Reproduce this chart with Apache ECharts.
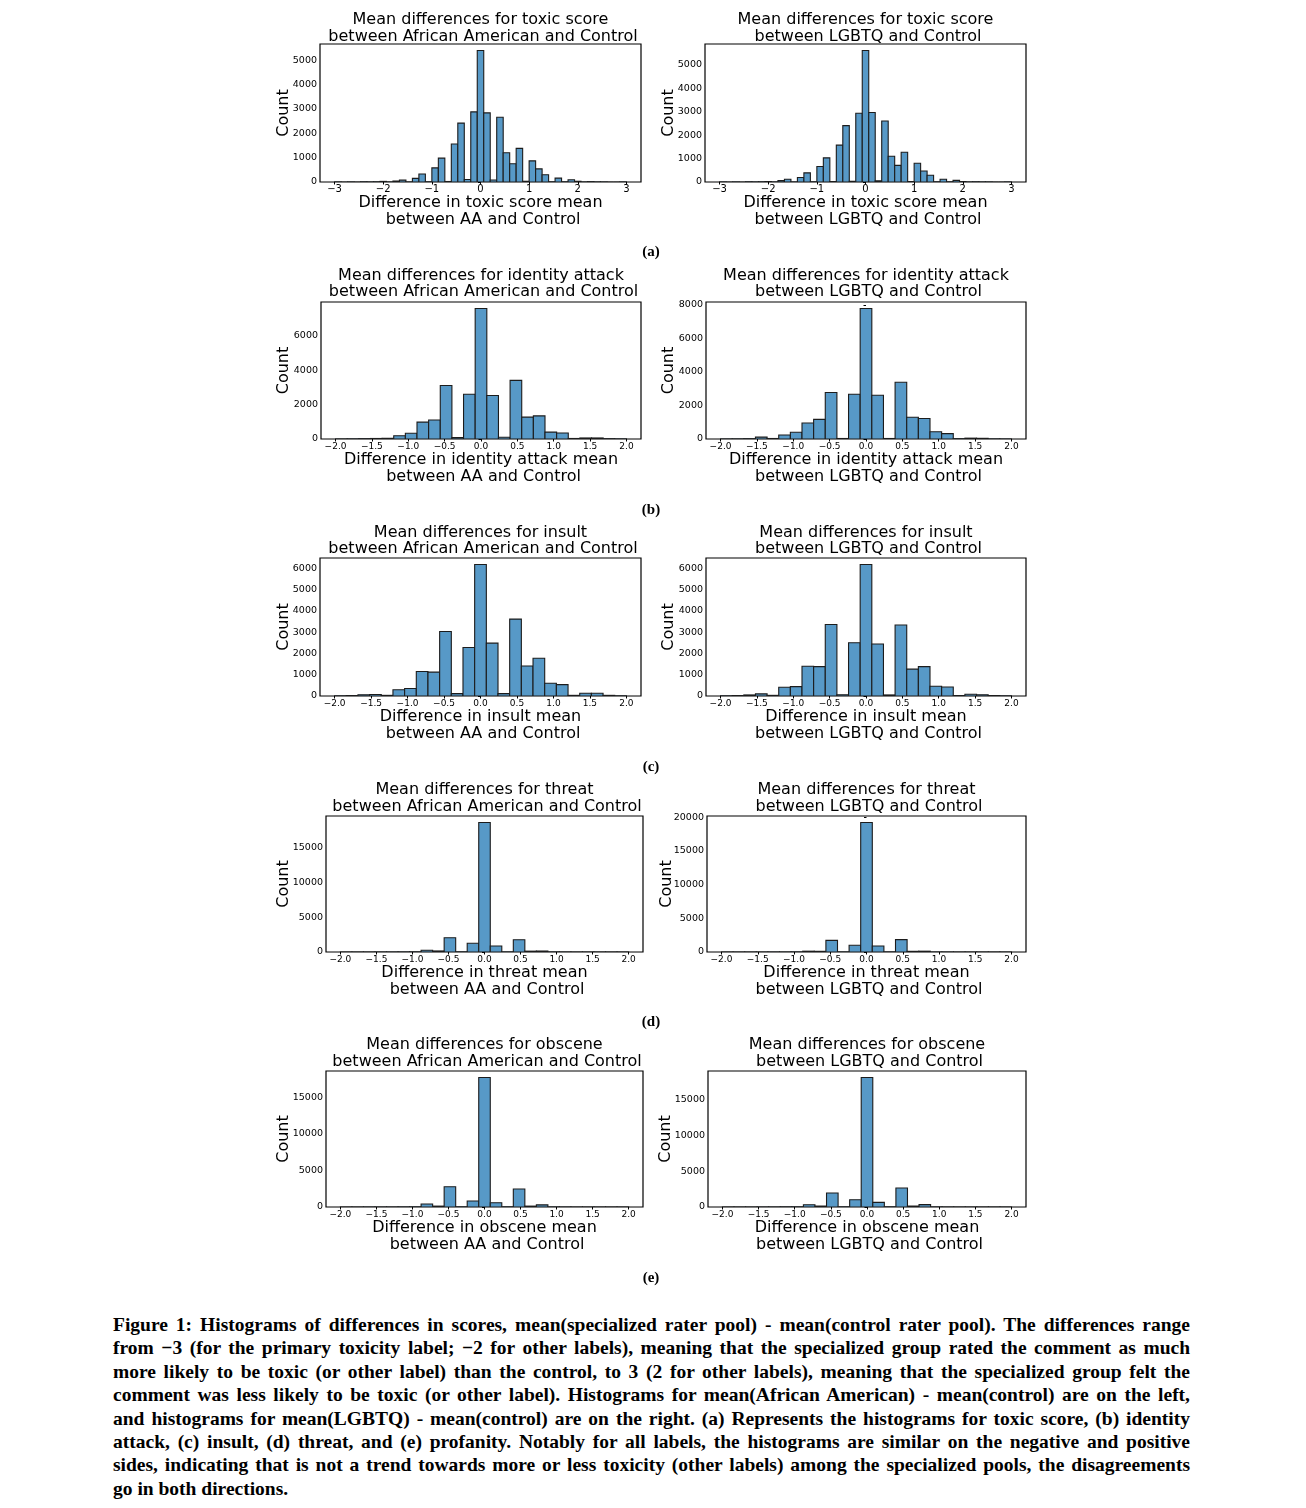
<!DOCTYPE html>
<html>
<head>
<meta charset="utf-8">
<script src="https://cdn.jsdelivr.net/npm/echarts@6/dist/echarts.min.js"></script>
<style>
html,body{margin:0;padding:0;background:#fff;}
#chart{position:absolute;left:0;top:0;width:1306px;height:1300px;}
#caption{position:absolute;left:113px;top:1313px;width:1077px;font-family:"Liberation Serif","DejaVu Serif",serif;font-weight:bold;font-size:19.5px;line-height:23.4px;color:#000;}
#caption div{text-align:justify;text-align-last:justify;white-space:nowrap;}
#caption div.last{text-align-last:left;}
</style>
</head>
<body>
<div id="chart"></div>
<div id="caption"></div>
<script>
// ---------------- data (counts per histogram bin) ----------------
// toxic score: 45 bins spanning [-3, 3]
const toxicBinRange = [-3, 3];
const toxicAA = [5,0,5,0,10,5,10,25,5,40,75,5,150,330,10,580,980,20,1560,2420,100,2880,5400,2840,80,2660,1200,750,1380,30,870,540,300,10,160,10,90,30,5,15,5,5,0,0,5];
const toxicLGBTQ = [5,0,5,0,10,5,10,20,5,60,120,5,190,390,10,660,1030,20,1570,2400,30,2930,5600,2960,50,2600,1100,710,1270,20,800,470,290,10,120,10,70,20,5,10,5,5,0,0,5];
// other labels: 25 bins spanning [-2, 2]
const otherBinRange = [-2, 2];
const identityAA = [5,10,20,30,40,190,330,980,1100,3100,80,2600,7570,2520,100,3400,1270,1340,400,350,30,60,60,20,10];
const identityLGBTQ = [5,10,20,110,30,240,400,950,1170,2770,30,2670,7780,2610,30,3380,1300,1225,430,320,20,50,40,10,5];
const insultAA = [10,20,60,70,30,290,350,1150,1120,3030,110,2280,6170,2480,110,3610,1410,1775,600,535,30,130,130,30,10];
const insultLGBTQ = [10,20,50,100,30,410,440,1400,1380,3360,60,2500,6170,2440,50,3330,1260,1380,460,420,20,80,60,20,10];
const threatAA = [5,5,5,10,10,20,30,260,150,2060,30,1250,18650,860,20,1770,120,140,20,10,5,5,5,5,5];
const threatLGBTQ = [5,5,5,5,10,10,20,120,100,1730,20,990,19200,890,20,1830,100,120,10,10,5,5,5,5,5];
const obsceneAA = [5,5,10,10,10,20,30,410,120,2770,30,820,17680,590,30,2450,120,290,20,10,5,5,5,5,5];
const obsceneLGBTQ = [5,5,5,10,10,30,30,320,130,1960,30,1020,18100,650,30,2650,130,330,20,10,5,5,5,5,5];

// ---------------- tick labels ----------------
const toxicXTicks = [-3,-2,-1,0,1,2,3];
const otherXTicks = [-2,-1.5,-1,-0.5,0,0.5,1,1.5,2];
const toxicYTicks = [0,1000,2000,3000,4000,5000];
const identityAAYTicks = [0,2000,4000,6000];
const identityLGBTQYTicks = [0,2000,4000,6000,8000];
const insultYTicks = [0,1000,2000,3000,4000,5000,6000];
const threatAAYTicks = [0,5000,10000,15000];
const threatLGBTQYTicks = [0,5000,10000,15000,20000];
const obsceneYTicks = [0,5000,10000,15000];

// ---------------- texts ----------------
const titlesAA = ['Mean differences for toxic score','Mean differences for identity attack','Mean differences for insult','Mean differences for threat','Mean differences for obscene'];
const xNames = ['Difference in toxic score mean','Difference in identity attack mean','Difference in insult mean','Difference in threat mean','Difference in obscene mean'];
const panelLabels = ['(a)','(b)','(c)','(d)','(e)'];
const captionLines = [
 'Figure 1: Histograms of differences in scores, mean(specialized rater pool) - mean(control rater pool). The differences range',
 'from \u22123 (for the primary toxicity label; \u22122 for other labels), meaning that the specialized group rated the comment as much',
 'more likely to be toxic (or other label) than the control, to 3 (2 for other labels), meaning that the specialized group felt the',
 'comment was less likely to be toxic (or other label). Histograms for mean(African American) - mean(control) are on the left,',
 'and histograms for mean(LGBTQ) - mean(control) are on the right. (a) Represents the histograms for toxic score, (b) identity',
 'attack, (c) insult, (d) threat, and (e) profanity. Notably for all labels, the histograms are similar on the negative and positive',
 'sides, indicating that is not a trend towards more or less toxicity (other labels) among the specialized pools, the disagreements',
 'go in both directions.'
];

// ---------------- layout ----------------
const FONT = 'DejaVu Sans';
const BAR_FILL = '#5799c7';
const BAR_EDGE = '#1c1c1c';

const panels = [
 {counts: toxicAA, bins: toxicBinRange, xr:[-3.3,3.3], xTicks: toxicXTicks, xDec:0, xFont:10, yTicks: toxicYTicks, row:0, side:'AA', box:[320,44,321,138], tGap:2.5, yGap:27.5},
 {counts: toxicLGBTQ, bins: toxicBinRange, xr:[-3.3,3.3], xTicks: toxicXTicks, xDec:0, xFont:10, yTicks: toxicYTicks, row:0, side:'LGBTQ', box:[705,44,321,138], tGap:2.5, yGap:27.5},
 {counts: identityAA, bins: otherBinRange, xr:[-2.2,2.2], xTicks: otherXTicks, xDec:1, xFont:9, yTicks: identityAAYTicks, row:1, side:'AA', box:[321,302,320,137], tGap:5, yGap:28.5},
 {counts: identityLGBTQ, bins: otherBinRange, xr:[-2.2,2.2], xTicks: otherXTicks, xDec:1, xFont:9, yTicks: identityLGBTQYTicks, row:1, side:'LGBTQ', box:[706,302,320,137], tGap:5, yGap:28.5},
 {counts: insultAA, bins: otherBinRange, xr:[-2.2,2.2], xTicks: otherXTicks, xDec:1, xFont:9, yTicks: insultYTicks, row:2, side:'AA', box:[320,558,321,138], tGap:4, yGap:27.5},
 {counts: insultLGBTQ, bins: otherBinRange, xr:[-2.2,2.2], xTicks: otherXTicks, xDec:1, xFont:9, yTicks: insultYTicks, row:2, side:'LGBTQ', box:[706,558,320,138], tGap:4, yGap:28.5},
 {counts: threatAA, bins: otherBinRange, xr:[-2.2,2.2], xTicks: otherXTicks, xDec:1, xFont:9, yTicks: threatAAYTicks, row:3, side:'AA', box:[326,816,317,136], tGap:4.7, yGap:33.5},
 {counts: threatLGBTQ, bins: otherBinRange, xr:[-2.2,2.2], xTicks: otherXTicks, xDec:1, xFont:9, yTicks: threatLGBTQYTicks, row:3, side:'LGBTQ', box:[707,816,319,136], tGap:4.7, yGap:31.5},
 {counts: obsceneAA, bins: otherBinRange, xr:[-2.2,2.2], xTicks: otherXTicks, xDec:1, xFont:9, yTicks: obsceneYTicks, row:4, side:'AA', box:[326,1071,317,136], tGap:4.7, yGap:33.5},
 {counts: obsceneLGBTQ, bins: otherBinRange, xr:[-2.2,2.2], xTicks: otherXTicks, xDec:1, xFont:9, yTicks: obsceneYTicks, row:4, side:'LGBTQ', box:[708,1071,318,136], tGap:4.7, yGap:33}
];
const panelLabelY = [252, 510, 767, 1022, 1278];

function fmtX(dec){
  return v => (dec ? Number(v).toFixed(dec) : String(Math.round(v))).replace('-', '\u2212');
}

const grids = [], xAxes = [], yAxes = [], series = [], graphics = [];
panels.forEach((p, i) => {
  const [l, t, w, h] = p.box;
  grids.push({left:l, top:t, width:w, height:h, show:true, borderColor:'#000', borderWidth:1.2, backgroundColor:'#fff', containLabel:false, outerBoundsMode:'none'});
  const n = p.counts.length;
  const bw = (p.bins[1] - p.bins[0]) / n;
  const data = p.counts.map((c, k) => [p.bins[0] + k*bw, p.bins[0] + (k+1)*bw, c]);
  const ymax = Math.max(...p.counts) * 1.05;
  const group = p.side === 'AA' ? 'African American' : 'LGBTQ';
  const shortG = p.side === 'AA' ? 'AA' : 'LGBTQ';
  xAxes.push({
    type:'value', gridIndex:i, min:p.xr[0], max:p.xr[1],
    name: xNames[p.row] + '\n between ' + shortG + ' and Control',
    nameLocation:'middle', nameGap:12.4, nameMoveOverlap:false,
    nameTextStyle:{fontFamily:FONT, fontSize:16, color:'#000', lineHeight:16.8},
    axisLine:{show:false}, splitLine:{show:false},
    axisTick:{show:true, length:2.5, lineStyle:{color:'#000', width:1}, customValues:p.xTicks},
    axisLabel:{show:true, margin:p.xFont === 10 ? 2.5 : 3.5, fontFamily:FONT, fontSize:p.xFont, color:'#000', customValues:p.xTicks, formatter:fmtX(p.xDec), showMinLabel:true, showMaxLabel:true}
  });
  yAxes.push({
    type:'value', gridIndex:i, min:0, max:ymax,
    name:'Count', nameLocation:'middle', nameRotate:90, nameGap:p.yGap, nameMoveOverlap:false,
    nameTextStyle:{fontFamily:FONT, fontSize:16, color:'#000', lineHeight:18},
    axisLine:{show:false}, splitLine:{show:false},
    axisTick:{show:true, length:2.5, lineStyle:{color:'#000', width:1}, customValues:p.yTicks},
    axisLabel:{show:true, margin:3, fontFamily:FONT, fontSize:9.5, color:'#000', customValues:p.yTicks, formatter: v => String(Math.round(v))}
  });
  series.push({
    type:'custom', xAxisIndex:i, yAxisIndex:i, data:data, clip:true,
    encode:{x:[0,1], y:2},
    renderItem:(params, api) => {
      const a = api.coord([api.value(0), api.value(2)]);
      const b = api.coord([api.value(1), 0]);
      return {type:'rect', shape:{x:a[0], y:a[1], width:b[0]-a[0], height:b[1]-a[1]},
              style:{fill:BAR_FILL, stroke:BAR_EDGE, lineWidth:1.1}};
    }
  });
  // two-line title
  const cx = l + w/2;
  const line2 = t - p.tGap - 4.75;
  graphics.push({type:'text', x:cx, y:line2 - 16.8, style:{text:titlesAA[p.row], fontFamily:FONT, fontSize:16, fill:'#000', align:'center', verticalAlign:'middle'}});
  graphics.push({type:'text', x:cx, y:line2, style:{text:' between ' + group + ' and Control', fontFamily:FONT, fontSize:16, fill:'#000', align:'center', verticalAlign:'middle'}});
});
panelLabels.forEach((s, r) => {
  graphics.push({type:'text', x:651, y:panelLabelY[r], style:{text:s, fontFamily:'Liberation Serif', fontWeight:'bold', fontSize:15, fill:'#000', align:'center', verticalAlign:'middle'}});
});

const chart = echarts.init(document.getElementById('chart'), null, {renderer:'canvas'});
chart.setOption({
  animation:false,
  backgroundColor:'#fff',
  grid:grids, xAxis:xAxes, yAxis:yAxes, series:series,
  graphic:{elements:graphics}
});

const cap = document.getElementById('caption');
captionLines.forEach((s, i) => {
  const d = document.createElement('div');
  d.textContent = s;
  if (i === captionLines.length - 1) d.className = 'last';
  cap.appendChild(d);
});
</script>
</body>
</html>
